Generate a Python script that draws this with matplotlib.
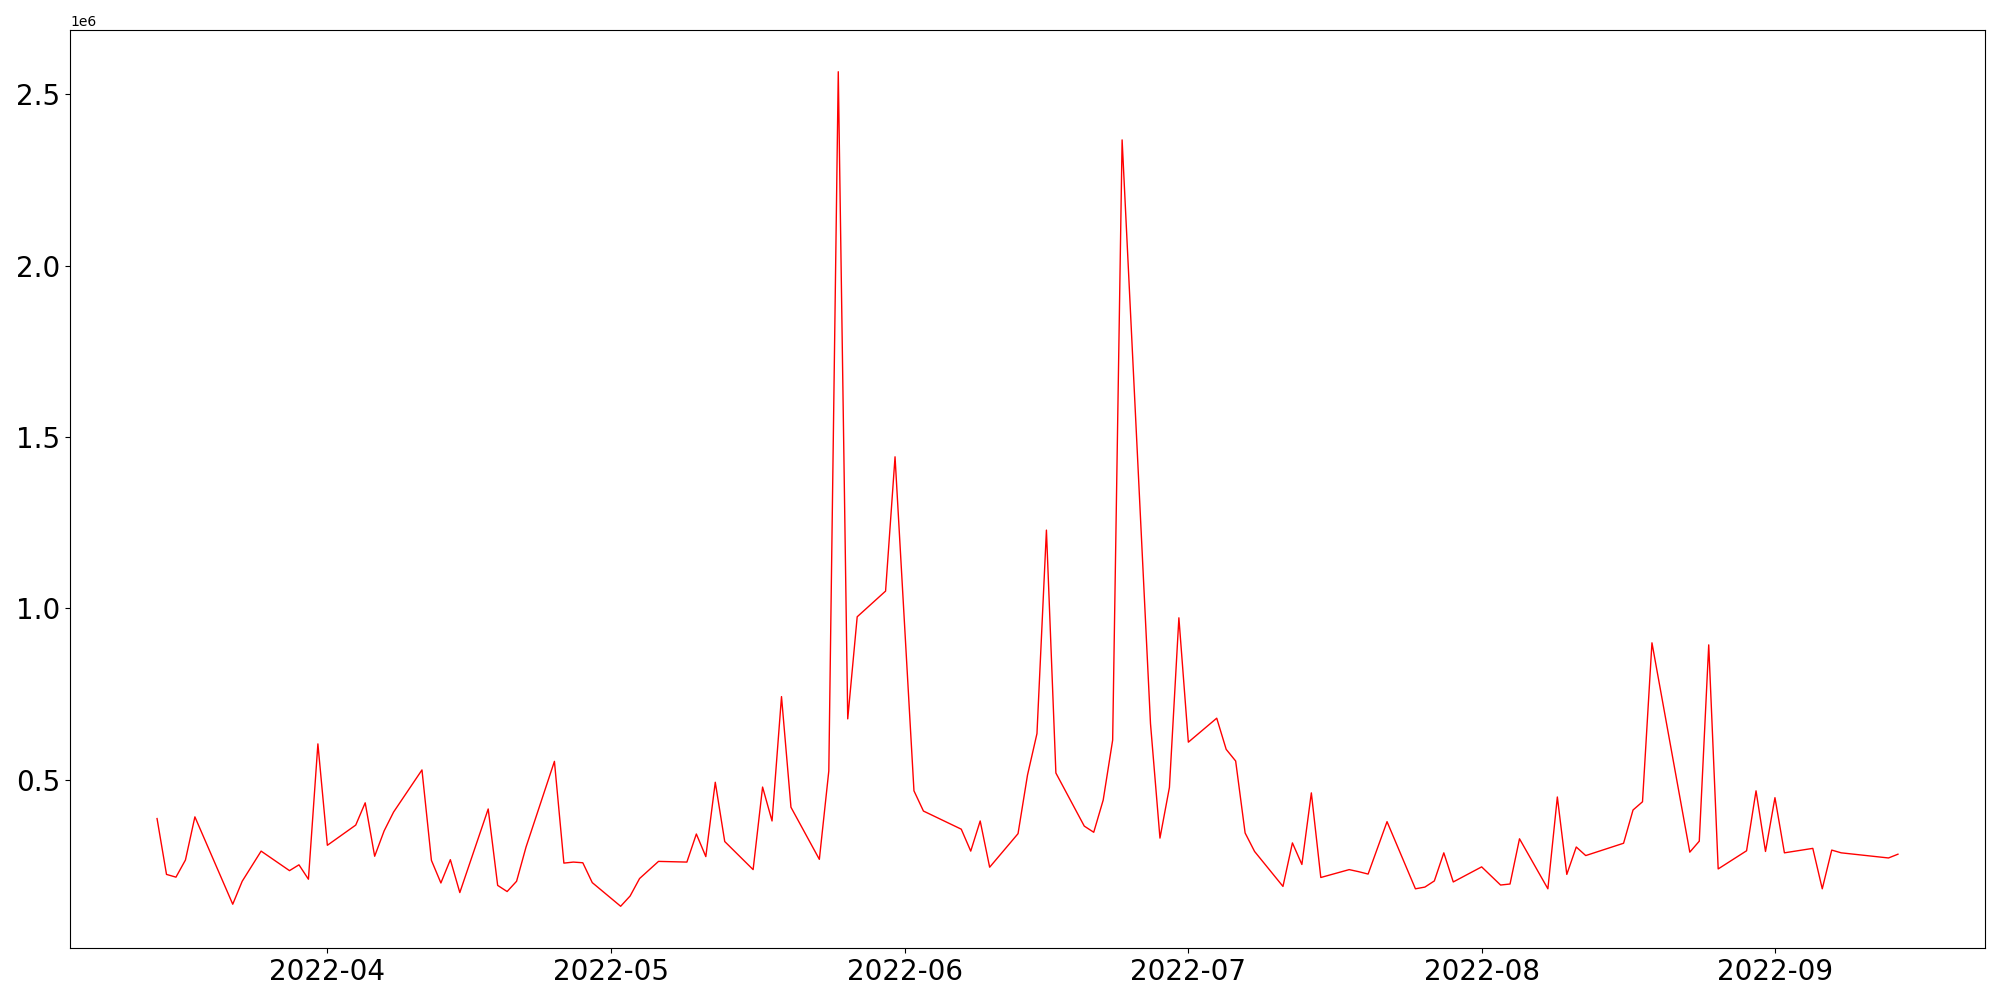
import numpy as np
import pandas as pd
import matplotlib
matplotlib.use('Agg')
import matplotlib.pyplot as plt

# daily values (gaps = missing days)
dates = ['2022-03-14', '2022-03-15', '2022-03-16', '2022-03-17', '2022-03-18',
         '2022-03-22', '2022-03-23', '2022-03-25', '2022-03-28', '2022-03-29',
         '2022-03-30', '2022-03-31', '2022-04-01', '2022-04-04', '2022-04-05',
         '2022-04-06', '2022-04-07', '2022-04-08', '2022-04-11', '2022-04-12',
         '2022-04-13', '2022-04-14', '2022-04-15', '2022-04-18', '2022-04-19',
         '2022-04-20', '2022-04-21', '2022-04-22', '2022-04-25', '2022-04-26',
         '2022-04-27', '2022-04-28', '2022-04-29', '2022-05-02', '2022-05-03',
         '2022-05-04', '2022-05-06', '2022-05-09', '2022-05-10', '2022-05-11',
         '2022-05-12', '2022-05-13', '2022-05-16', '2022-05-17', '2022-05-18',
         '2022-05-19', '2022-05-20', '2022-05-23', '2022-05-24', '2022-05-25',
         '2022-05-26', '2022-05-27', '2022-05-30', '2022-05-31', '2022-06-02',
         '2022-06-03', '2022-06-07', '2022-06-08', '2022-06-09', '2022-06-10',
         '2022-06-13', '2022-06-14', '2022-06-15', '2022-06-16', '2022-06-17',
         '2022-06-20', '2022-06-21', '2022-06-22', '2022-06-23', '2022-06-24',
         '2022-06-27', '2022-06-28', '2022-06-29', '2022-06-30', '2022-07-01',
         '2022-07-04', '2022-07-05', '2022-07-06', '2022-07-07', '2022-07-08',
         '2022-07-11', '2022-07-12', '2022-07-13', '2022-07-14', '2022-07-15',
         '2022-07-18', '2022-07-19', '2022-07-20', '2022-07-22', '2022-07-25',
         '2022-07-26', '2022-07-27', '2022-07-28', '2022-07-29', '2022-08-01',
         '2022-08-03', '2022-08-04', '2022-08-05', '2022-08-08', '2022-08-09',
         '2022-08-10', '2022-08-11', '2022-08-12', '2022-08-16', '2022-08-17',
         '2022-08-18', '2022-08-19', '2022-08-23', '2022-08-24', '2022-08-25',
         '2022-08-26', '2022-08-29', '2022-08-30', '2022-08-31', '2022-09-01',
         '2022-09-02', '2022-09-05', '2022-09-06', '2022-09-07', '2022-09-08',
         '2022-09-13', '2022-09-14']

volume = [386000, 223000, 215000, 265000, 391000,
          136000, 203000, 291000, 234000, 251000,
          209000, 604000, 308000, 367000, 432000,
          276000, 350000, 405000, 528000, 264000,
          198000, 266000, 170000, 414000, 191000,
          173000, 203000, 303000, 553000, 256000,
          259000, 257000, 199000, 130000, 160000,
          211000, 261000, 259000, 341000, 275000,
          492000, 319000, 237000, 478000, 379000,
          742000, 419000, 267000, 525000, 2566000,
          677000, 975000, 1050000, 1442000, 467000,
          408000, 355000, 291000, 379000, 244000,
          342000, 513000, 634000, 1228000, 519000,
          364000, 346000, 440000, 615000, 2367000,
          663000, 329000, 477000, 972000, 609000,
          679000, 588000, 554000, 344000, 290000,
          188000, 315000, 252000, 461000, 214000,
          237000, 231000, 224000, 377000, 181000,
          186000, 204000, 286000, 201000, 245000,
          192000, 195000, 327000, 181000, 449000,
          223000, 303000, 278000, 314000, 411000,
          435000, 899000, 288000, 320000, 893000,
          239000, 292000, 467000, 290000, 447000,
          286000, 299000, 181000, 294000, 286000,
          271000, 282000]

df = pd.DataFrame({'date': pd.to_datetime(dates), 'volume': volume})

fig = plt.figure(figsize=(20, 10), dpi=100)
ax = fig.add_subplot(111)
ax.plot(df['date'], df['volume'], color='red', linewidth=1)

plt.xticks(fontsize=20)
plt.yticks(fontsize=20)
plt.subplots_adjust(left=0.035, right=0.9925, top=0.97, bottom=0.052)

plt.savefig('out.png')
